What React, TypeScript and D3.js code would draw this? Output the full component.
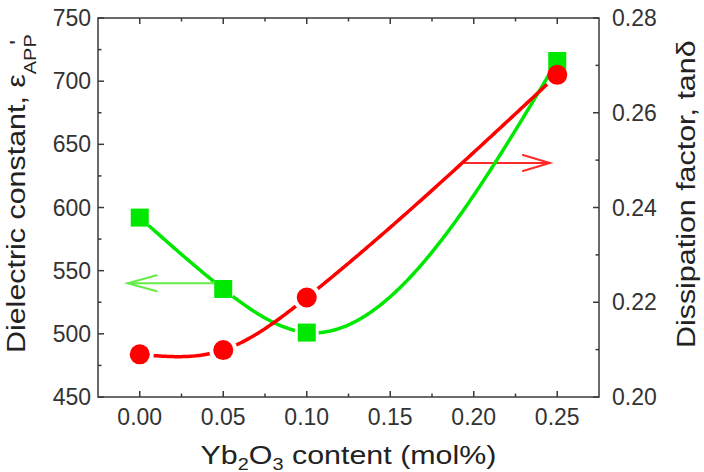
import React from "react";
import * as d3 from "d3";

// Yb2O3 content (mol%)
const contents = [0, 0.05, 0.1, 0.25];
// apparent dielectric constant (left axis)
const permittivity = [592, 535.5, 501, 716];
// dissipation factor tan delta (right axis)
const lossTangent = [0.209, 0.2099, 0.221, 0.268];

const xTicks = [0, 0.05, 0.1, 0.15, 0.2, 0.25];
const xMinorTicks = [0.025, 0.075, 0.125, 0.175, 0.225];
const leftTicks = [450, 500, 550, 600, 650, 700, 750];
const leftMinorTicks = [475, 525, 575, 625, 675, 725];
const rightTicks = [0.2, 0.22, 0.24, 0.26, 0.28];
const rightMinorTicks = [0.21, 0.23, 0.25, 0.27];

const W = 704;
const H = 472;
const box = { left: 98, right: 599, top: 18, bottom: 397 };

const GREEN = "#00e800";
const RED = "#ff0000";
const AXIS = "#3a3a3a";
const FONT = "'Liberation Sans', Arial, sans-serif";
// titles are set a little wider than the regular face
const STRETCH = 1.17;

// natural cubic spline through (xs, ys), y as a function of x
function naturalSpline(xs: number[], ys: number[]) {
  const n = xs.length;
  const h = d3.range(n - 1).map((i) => xs[i + 1] - xs[i]);
  const M = new Array(n).fill(0);
  const a: number[] = [], b: number[] = [], c: number[] = [], r: number[] = [];
  for (let i = 1; i < n - 1; i++) {
    a.push(h[i - 1]);
    b.push(2 * (h[i - 1] + h[i]));
    c.push(h[i]);
    r.push(6 * ((ys[i + 1] - ys[i]) / h[i] - (ys[i] - ys[i - 1]) / h[i - 1]));
  }
  // tridiagonal solve
  const m = b.length;
  for (let i = 1; i < m; i++) {
    const w = a[i] / b[i - 1];
    b[i] -= w * c[i - 1];
    r[i] -= w * r[i - 1];
  }
  for (let i = m - 1; i >= 0; i--) {
    M[i + 1] = (r[i] - (i < m - 1 ? c[i] * M[i + 2] : 0)) / b[i];
  }
  return (x: number) => {
    const i = Math.min(n - 2, Math.max(0, d3.bisectRight(xs, x) - 1));
    const hi = h[i];
    const A = xs[i + 1] - x;
    const B = x - xs[i];
    return (
      (M[i] * A * A * A) / (6 * hi) +
      (M[i + 1] * B * B * B) / (6 * hi) +
      (ys[i] / hi - (M[i] * hi) / 6) * A +
      (ys[i + 1] / hi - (M[i + 1] * hi) / 6) * B
    );
  };
}

function splinePath(
  xs: number[],
  ys: number[],
  sx: d3.ScaleLinear<number, number>,
  sy: d3.ScaleLinear<number, number>
) {
  const f = naturalSpline(xs, ys);
  const pts: [number, number][] = [];
  const lo = xs[0];
  const hi = xs[xs.length - 1];
  for (let k = 0; k <= 300; k++) {
    const x = lo + ((hi - lo) * k) / 300;
    pts.push([sx(x), sy(f(x))]);
  }
  return d3.line()(pts) || "";
}

export default function App() {
  const x = d3.scaleLinear().domain([-0.025, 0.275]).range([box.left, box.right]);
  const yL = d3.scaleLinear().domain([450, 750]).range([box.bottom, box.top]);
  const yR = d3.scaleLinear().domain([0.2, 0.28]).range([box.bottom, box.top]);

  const greenPath = splinePath(contents, permittivity, x, yL);
  const redPath = splinePath(contents, lossTangent, x, yR);

  const majorLen = 6;
  const minorLen = 3.5;
  const sq = 18;
  const rad = 10;

  return (
    <svg
      width={W}
      height={H}
      style={{ position: "absolute", left: 0, top: 0, background: "#fff" }}
      fontFamily={FONT}
    >
      <defs>
        <mask id="gapGreen" maskUnits="userSpaceOnUse" x={0} y={0} width={W} height={H}>
          <rect width={W} height={H} fill="#fff" />
          {contents.map((c, i) => (
            <circle key={i} cx={x(c)} cy={yL(permittivity[i])} r={12} fill="#000" />
          ))}
        </mask>
        <mask id="gapRed" maskUnits="userSpaceOnUse" x={0} y={0} width={W} height={H}>
          <rect width={W} height={H} fill="#fff" />
          {contents.map((c, i) => (
            <circle key={i} cx={x(c)} cy={yR(lossTangent[i])} r={rad + 4} fill="#000" />
          ))}
        </mask>
      </defs>

      {/* frame */}
      <rect
        x={box.left}
        y={box.top}
        width={box.right - box.left}
        height={box.bottom - box.top}
        fill="none"
        stroke={AXIS}
        strokeWidth={1.5}
      />

      {/* bottom and top ticks */}
      {xTicks.map((t) => (
        <g key={"x" + t} stroke={AXIS} strokeWidth={1.5}>
          <line x1={x(t)} x2={x(t)} y1={box.bottom} y2={box.bottom - majorLen} />
          <line x1={x(t)} x2={x(t)} y1={box.top} y2={box.top + majorLen} />
        </g>
      ))}
      {xMinorTicks.map((t) => (
        <g key={"xm" + t} stroke={AXIS} strokeWidth={1.5}>
          <line x1={x(t)} x2={x(t)} y1={box.bottom} y2={box.bottom - minorLen} />
          <line x1={x(t)} x2={x(t)} y1={box.top} y2={box.top + minorLen} />
        </g>
      ))}
      {xTicks.map((t) => (
        <text key={"xl" + t} x={x(t)} y={425} textAnchor="middle" fontSize={23} fill="#333">
          {d3.format(".2f")(t)}
        </text>
      ))}

      {/* left axis */}
      {leftTicks.map((t) => (
        <line key={"l" + t} x1={box.left} x2={box.left + majorLen} y1={yL(t)} y2={yL(t)} stroke={AXIS} strokeWidth={1.5} />
      ))}
      {leftMinorTicks.map((t) => (
        <line key={"lm" + t} x1={box.left} x2={box.left + minorLen} y1={yL(t)} y2={yL(t)} stroke={AXIS} strokeWidth={1.5} />
      ))}
      {leftTicks.map((t) => (
        <text key={"ll" + t} x={91} y={yL(t) + 8} textAnchor="end" fontSize={23} fill="#333">
          {t}
        </text>
      ))}

      {/* right axis */}
      {rightTicks.map((t) => (
        <line key={"r" + t} x1={box.right} x2={box.right - majorLen} y1={yR(t)} y2={yR(t)} stroke={AXIS} strokeWidth={1.5} />
      ))}
      {rightMinorTicks.map((t) => (
        <line key={"rm" + t} x1={box.right} x2={box.right - minorLen} y1={yR(t)} y2={yR(t)} stroke={AXIS} strokeWidth={1.5} />
      ))}
      {rightTicks.map((t) => (
        <text key={"rl" + t} x={612} y={yR(t) + 8} textAnchor="start" fontSize={23} fill="#333">
          {d3.format(".2f")(t)}
        </text>
      ))}

      {/* axis titles */}
      <text
        transform={`translate(348.5,464) scale(${STRETCH},1)`}
        textAnchor="middle"
        fontSize={26}
        fill="#222"
      >
        Yb<tspan fontSize={17} dy={5.5}>2</tspan>
        <tspan dy={-5.5}>O</tspan>
        <tspan fontSize={17} dy={5.5}>3</tspan>
        <tspan dy={-5.5}> content (mol%)</tspan>
      </text>
      <text
        transform={`translate(25,353) rotate(-90) scale(${STRETCH},1)`}
        textAnchor="start"
        fontSize={26}
        fill="#222"
      >
        Dielectric constant, ε<tspan fontSize={17} dy={11}>APP</tspan>
        <tspan fontSize={22} dx={-9} dy={-11}>'</tspan>
      </text>
      <text
        transform={`translate(695,348) rotate(-90) scale(${STRETCH},1)`}
        textAnchor="start"
        fontSize={26}
        fill="#222"
      >
        Dissipation factor, tanδ
      </text>

      {/* guide arrows pointing to each series' axis */}
      <g stroke="#66ec48" strokeWidth={2} fill="none" strokeLinecap="round">
        <line x1={x(0.05)} x2={x(-0.0072)} y1={yL(540)} y2={yL(540)} />
        <polyline
          points={`${x(-0.0072) + 29},${yL(540) - 8} ${x(-0.0072)},${yL(540)} ${x(-0.0072) + 29},${yL(540) + 8}`}
        />
      </g>
      <g stroke="#ff2a2a" strokeWidth={2} fill="none" strokeLinecap="round">
        <line x1={x(0.1935)} x2={x(0.2456)} y1={yR(0.2494)} y2={yR(0.2494)} />
        <polyline
          points={`${x(0.2456) - 27},${yR(0.2494) - 8} ${x(0.2456)},${yR(0.2494)} ${x(0.2456) - 27},${yR(0.2494) + 8}`}
        />
      </g>

      {/* dielectric constant */}
      <path d={greenPath} fill="none" stroke={GREEN} strokeWidth={3.5} mask="url(#gapGreen)" />
      {contents.map((c, i) => (
        <rect
          key={"g" + i}
          x={x(c) - sq / 2}
          y={yL(permittivity[i]) - sq / 2}
          width={sq}
          height={sq}
          fill={GREEN}
        />
      ))}

      {/* dissipation factor */}
      <path d={redPath} fill="none" stroke={RED} strokeWidth={3.5} mask="url(#gapRed)" />
      {contents.map((c, i) => (
        <circle key={"r" + i} cx={x(c)} cy={yR(lossTangent[i])} r={rad} fill={RED} />
      ))}
    </svg>
  );
}
